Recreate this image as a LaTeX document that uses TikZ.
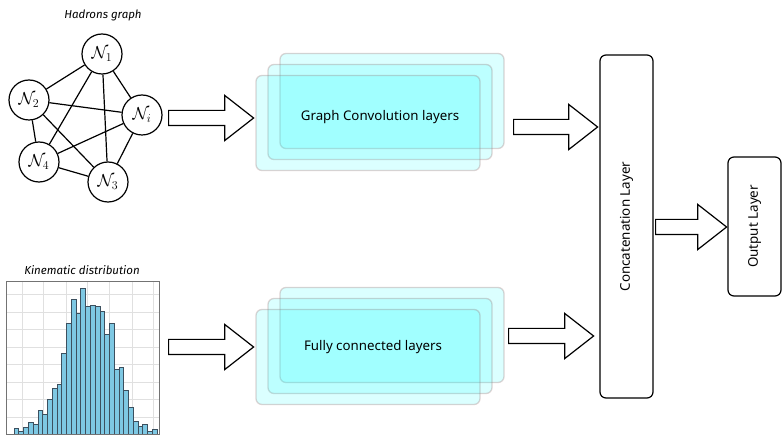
\documentclass[tikz,border=0pt]{standalone}
\usepackage{fontspec}
\usepackage{amsmath,amssymb}
\usetikzlibrary{shapes.arrows}
\newfontfamily\labelfont{Noto Sans}
\newfontfamily\titlefont{Fira Sans}
\definecolor{barblue}{RGB}{126,200,227}
\definecolor{baredge}{RGB}{60,80,95}
\definecolor{layercyan}{RGB}{0,255,255}
\definecolor{layeredge}{RGB}{150,110,110}

\begin{document}
\begin{tikzpicture}[x=1pt,y=-1pt,
		hadron/.style={circle,draw,line width=1.2pt,fill=white,minimum size=40pt,inner sep=0pt,font=\fontsize{18}{20}\selectfont},
		layerbox/.style={draw=layeredge,draw opacity=0.3,line width=1.3pt,fill=layercyan,fill opacity=0.14,rounded corners=6pt,minimum width=224pt,minimum height=95pt},
		layer/.style={draw,line width=1.2pt,rounded corners=6pt,rotate=90,minimum height=53pt,font=\labelfont\fontsize{13.4}{16}\selectfont},
		bigarrow/.style={single arrow,draw,line width=1.2pt,fill=white,inner xsep=0pt,inner ysep=7pt,single arrow head extend=15pt,single arrow tip angle=76,anchor=tail}]
			\useasboundingbox (0,0) rectangle (782,438);
			% hadrons graph
			\node[font=\titlefont\itshape\fontsize{11.5}{13}\selectfont] (graphtitle) at (103,15) {Hadrons graph};
			\node[hadron] (n1) at (102,54) {$\mathcal{N}_1$};
			\node[hadron] (n2) at (29,100) {$\mathcal{N}_2$};
			\node[hadron] (ni) at (142,115) {$\mathcal{N}_i$};
			\node[hadron] (n4) at (39,162) {$\mathcal{N}_4$};
			\node[hadron] (n3) at (108,182) {$\mathcal{N}_3$};
			\foreach \a/\b in {n1/n2,n1/ni,n1/n3,n1/n4,n2/ni,n2/n4,n2/n3,ni/n4,ni/n3,n4/n3}
				\draw[line width=1.2pt] (\a) -- (\b);
			% kinematic distribution
			\node[font=\titlefont\itshape\fontsize{11.5}{13}\selectfont] (histtitle) at (82,270) {Kinematic distribution};
			\foreach \y in {294,312,329,347,364,382,399,417}
				\draw[black!12,line width=0.8pt] (6,\y) -- (159,\y);
			\foreach \x in {22,43,66,87,109,132,153}
				\draw[black!12,line width=0.8pt] (\x,281) -- (\x,434);
			\foreach \h [count=\i from 0] in {5.7,3,6.3,11.3,9.7,24,19.7,35,45.7,49.7,80.3,110.7,135,120.7,145.7,128,129,128,122.3,99.7,110.7,65,66.3,44,26.3,13,7.3,9.7,2.3,4.7}
				\draw[fill=barblue,draw=baredge,line width=0.6pt] (14+4.77*\i,434) rectangle ++(4.77,-\h);
			\draw[black!55,line width=0.8pt] (6,281) rectangle (159,434);
			% stacked layers
			\foreach \d in {1,0,-1}
				\node[layerbox] (gcn\d) at (380+12*\d,112-11*\d) {};
			\node[font=\labelfont\fontsize{13.3}{16}\selectfont] (gcn) at (380,117) {Graph Convolution layers};
			\foreach \d in {1,0,-1}
				\node[layerbox] (fcl\d) at (380+12*\d,346-11*\d) {};
			\node[font=\labelfont\fontsize{13.3}{16}\selectfont] (fcl) at (373,347) {Fully connected layers};
			% concatenation and output
			\node[layer,minimum width=343pt] (concat) at (626.5,226.5) {Concatenation Layer};
			\node[layer,minimum width=139pt] (output) at (754.5,226.5) {Output Layer};
			% arrows
			\node[bigarrow,minimum height=85pt] (a1) at (168,118) {};
			\node[bigarrow,minimum height=85pt] (a2) at (168,347) {};
			\node[bigarrow,minimum height=84pt] (a3) at (513,127) {};
			\node[bigarrow,minimum height=85pt] (a4) at (508,336) {};
			\node[bigarrow,minimum height=71pt] (a5) at (655,227) {};
		\end{tikzpicture}
\end{document}
